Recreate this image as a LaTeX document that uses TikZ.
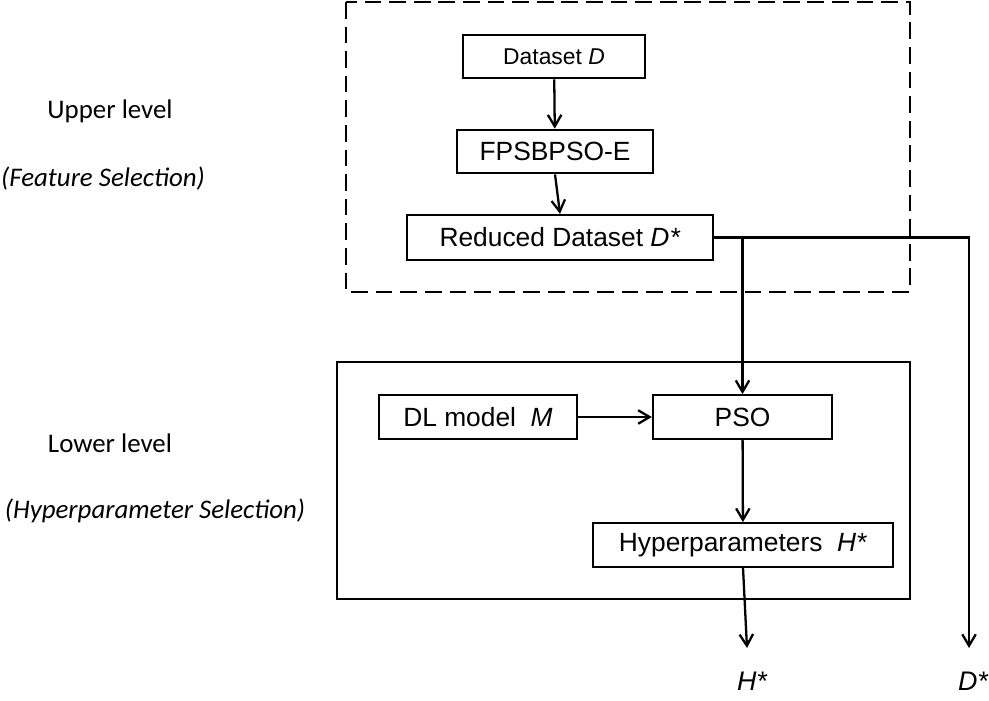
\documentclass[tikz,border=0pt]{standalone}
\usepackage{fontspec}
\setmainfont{Liberation Sans}
\newfontfamily\lvlfont{Carlito}
\usetikzlibrary{arrows.meta, positioning}

\begin{document}
\begin{tikzpicture}[
        x=0.02cm, y=-0.02cm, line width=1.3pt,
        >={Straight Barb[length=2.3mm,width=2.7mm]},
        blk/.style={draw, inner sep=0pt, minimum height=0.87cm, font=\fontsize{15}{18}\selectfont},
        lvl/.style={inner sep=0pt, font=\lvlfont\fontsize{15.3}{18}\selectfont},
        outtxt/.style={inner sep=0pt, font=\fontsize{15.3}{18}\selectfont\itshape},
        frame/.style={line width=1.3pt},
        ]
        \useasboundingbox (0,0) rectangle (989,700);

        % level labels
        \node[lvl] (up)   at (110,111) {Upper level};
        \node[lvl] (upfs) at (103,179) {\itshape (Feature Selection)};
        \node[lvl] (lo)   at (110,443) {Lower level};
        \node[lvl] (lohs) at (155,511) {\itshape (Hyperparameter Selection)};

        % upper level
        \draw[frame, dash pattern=on 9.5pt off 4.5pt] (346,2) rectangle (910,292);
        \node[blk, minimum width=3.64cm, font=\fontsize{13}{16}\selectfont] (ds) at (554,56.5) {Dataset \textit{D}};
        \node[blk, minimum width=3.92cm] (fp)  at (555,151.5) {FPSBPSO-E};
        \node[blk, minimum width=6.12cm, minimum height=0.9cm] (red) at (560,237.5) {Reduced Dataset \textit{D*}};

        % lower level
        \draw[frame] (337,362) rectangle (910,599);
        \node[blk, minimum width=3.96cm] (dl)  at (478,417) {DL model\ \ \textit{M}};
        \node[blk, minimum width=3.58cm] (pso) at (742.5,417) {PSO};
        \node[blk, minimum width=6.0cm]  (hyp) at (743,545) {Hyperparameters\ \ \textit{H*}};

        % outputs
        \coordinate (hout) at (747,648);
        \coordinate (dout) at (969,648);
        \node[outtxt] (hs) at (752,681) {H*};
        \node[outtxt] (dst) at (973,681) {D*};

        \draw[->] (ds) -- (fp);
        \draw[->] (fp.south) -- (red.north);
        \draw[->] (red.east -| pso.north) -- (pso.north);
        \draw[->] (red.east) -| (dout);
        \draw[->] (dl) -- (pso);
        \draw[->] (pso) -- (hyp);
        \draw[->] (hyp.south) -- (hout);
\end{tikzpicture}
\end{document}
